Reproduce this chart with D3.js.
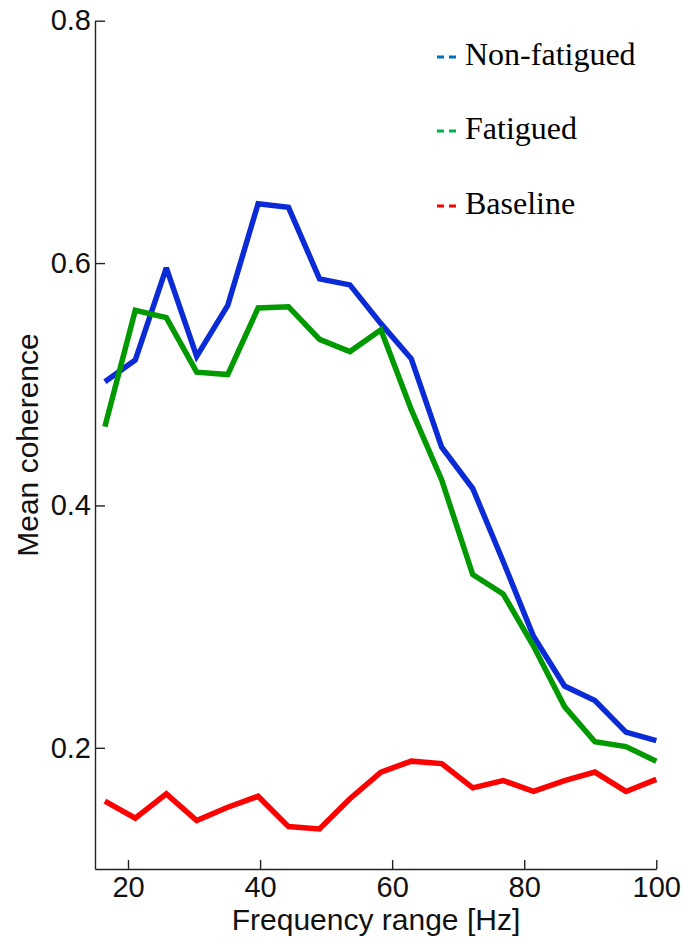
<!DOCTYPE html>
<html>
<head>
<meta charset="utf-8">
<script src="https://cdn.jsdelivr.net/npm/d3@7"></script>
<style>
  html, body { margin: 0; padding: 0; background: #fff; }
  svg { display: block; }
</style>
</head>
<body>
<svg id="chart" width="684" height="939"></svg>
<script>
// ---- data ----
const freq = [16.5, 21.1, 25.8, 30.4, 35.1, 39.7, 44.3, 49.0, 53.6, 58.3, 62.9, 67.5, 72.2, 76.8, 81.4, 86.1, 90.7, 95.4, 100.0];
const nonFatigued = [0.502, 0.520, 0.596, 0.523, 0.565, 0.649, 0.646, 0.587, 0.582, 0.550, 0.521, 0.448, 0.414, 0.354, 0.292, 0.251, 0.239, 0.213, 0.206];
const fatigued    = [0.465, 0.561, 0.555, 0.510, 0.508, 0.563, 0.564, 0.537, 0.527, 0.545, 0.479, 0.421, 0.343, 0.327, 0.284, 0.234, 0.205, 0.201, 0.189];
const baseline    = [0.156, 0.142, 0.162, 0.140, 0.151, 0.160, 0.135, 0.133, 0.158, 0.180, 0.189, 0.187, 0.167, 0.173, 0.164, 0.173, 0.180, 0.164, 0.174];
const seriesNames = ["Non-fatigued", "Fatigued", "Baseline"];
const xTicks = [20, 40, 60, 80, 100];
const yTicks = [0.2, 0.4, 0.6, 0.8];

// ---- styles ----
const lineColors = ["#0b2bd6", "#009a00", "#ff0000"];
const legendColors = ["#0070c0", "#00b050", "#ff0000"];

const svg = d3.select("#chart");
const x = d3.scaleLinear().domain([15, 100]).range([95, 656.3]);
const y = d3.scaleLinear().domain([0.1, 0.8]).range([869, 20.7]);

const sansFont = "'Liberation Sans', Arial, Helvetica, sans-serif";

// axes
const xAxis = d3.axisBottom(x).tickValues(xTicks).tickFormat(d3.format("d"))
  .tickSizeInner(-9).tickSizeOuter(0).tickPadding(7);
const yAxis = d3.axisLeft(y).tickValues(yTicks).tickFormat(d3.format(".1f"))
  .tickSizeInner(-10).tickSizeOuter(0).tickPadding(4);

const gx = svg.append("g").attr("transform", "translate(0,869)").call(xAxis);
const gy = svg.append("g").attr("transform", "translate(95,0)").call(yAxis);
[gx, gy].forEach(g => {
  g.selectAll("path.domain").attr("stroke", "#222").attr("stroke-width", 1.4);
  g.selectAll(".tick line").attr("stroke", "#222").attr("stroke-width", 1.4);
  g.selectAll(".tick text").attr("fill", "#111").style("font-family", sansFont).style("font-size", "29px");
});
gx.selectAll(".tick text").attr("dy", "0.71em");

// lines
const series = [nonFatigued, fatigued, baseline];
const line = d3.line().x((d, i) => x(freq[i])).y(d => y(d));
series.forEach((s, k) => {
  svg.append("path")
    .datum(s)
    .attr("d", line)
    .attr("fill", "none")
    .attr("stroke", lineColors[k])
    .attr("stroke-width", 5.5)
    .attr("stroke-linejoin", "miter")
    .attr("stroke-miterlimit", 3);
});

// axis labels
svg.append("text")
  .attr("x", 376).attr("y", 930)
  .attr("text-anchor", "middle")
  .style("font-family", sansFont).style("font-size", "30px").attr("fill", "#111")
  .text("Frequency range [Hz]");

svg.append("text")
  .attr("transform", "translate(38,445) rotate(-90)")
  .attr("text-anchor", "middle")
  .style("font-family", sansFont).style("font-size", "30px").attr("fill", "#111")
  .text("Mean coherence");

// legend
const legendBaselines = [65, 139, 214];
seriesNames.forEach((name, k) => {
  const by = legendBaselines[k];
  svg.append("line")
    .attr("x1", 437).attr("x2", 456)
    .attr("y1", by - 8).attr("y2", by - 8)
    .attr("stroke", legendColors[k])
    .attr("stroke-width", 3)
    .attr("stroke-dasharray", "7,5");
  svg.append("text")
    .attr("x", 465).attr("y", by)
    .style("font-family", "'Liberation Serif', 'Times New Roman', serif")
    .style("font-size", "32px").attr("fill", "#000")
    .text(name);
});
</script>
</body>
</html>
